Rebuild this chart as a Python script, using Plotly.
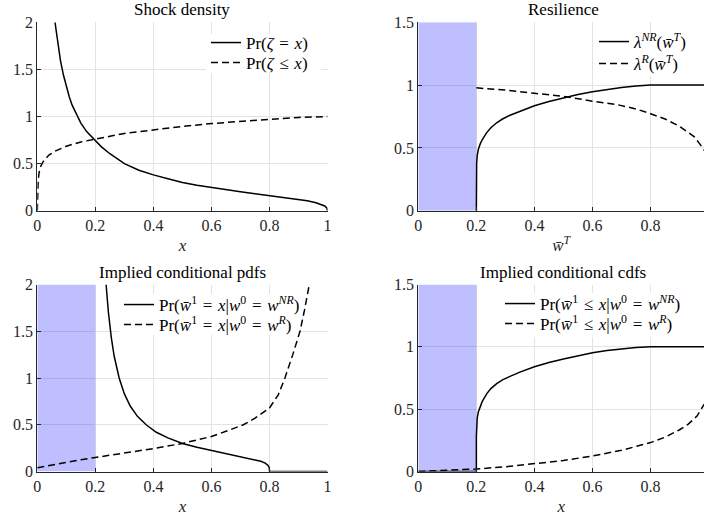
import plotly.graph_objects as go

# ---------------- data ----------------
shock_x_pdf = [0.061, 0.07, 0.08, 0.09, 0.10, 0.11, 0.12, 0.133, 0.15, 0.17, 0.195, 0.22, 0.25,
               0.30, 0.35, 0.40, 0.45, 0.50, 0.55, 0.60, 0.65, 0.70, 0.75, 0.80, 0.85, 0.90,
               0.93, 0.96, 0.98, 0.99, 0.997, 1.0]
shock_pdf = [2.0, 1.78, 1.59, 1.44, 1.31, 1.21, 1.12, 1.03, 0.93, 0.84, 0.755, 0.68, 0.605,
             0.50, 0.43, 0.38, 0.34, 0.30, 0.27, 0.245, 0.22, 0.20, 0.18, 0.16, 0.14, 0.12,
             0.105, 0.085, 0.065, 0.05, 0.03, 0.0]

shock_x_cdf = [0.0, 0.001, 0.003, 0.006, 0.01, 0.02, 0.04, 0.06, 0.08, 0.10, 0.15, 0.195, 0.25,
               0.30, 0.40, 0.50, 0.60, 0.70, 0.80, 0.90, 1.0]
shock_cdf = [0.0, 0.20, 0.32, 0.40, 0.46, 0.52, 0.59, 0.63, 0.66, 0.685, 0.73, 0.76, 0.79,
             0.82, 0.86, 0.895, 0.925, 0.95, 0.97, 0.99, 1.0]

res_x_nr = [0.2, 0.2, 0.201, 0.203, 0.207, 0.213, 0.22, 0.235, 0.25, 0.27, 0.29, 0.316, 0.35,
            0.40, 0.45, 0.50, 0.55, 0.60, 0.65, 0.70, 0.75, 0.80, 0.90, 1.0]
res_nr = [0.0, 0.30, 0.38, 0.44, 0.49, 0.53, 0.565, 0.62, 0.66, 0.70, 0.73, 0.76, 0.793,
          0.835, 0.87, 0.90, 0.925, 0.947, 0.966, 0.981, 0.993, 1.0, 1.0, 1.0]

res_x_r = [0.2, 0.3, 0.4, 0.5, 0.57, 0.6, 0.684, 0.75, 0.8, 0.85, 0.9, 0.93, 0.95, 0.97, 0.985]
res_r = [0.978, 0.96, 0.935, 0.91, 0.885, 0.872, 0.845, 0.81, 0.772, 0.73, 0.672, 0.625,
         0.59, 0.53, 0.48]

pdf_x_nr = [0.237, 0.245, 0.255, 0.265, 0.282, 0.30, 0.32, 0.345, 0.375, 0.41, 0.45, 0.50,
            0.55, 0.60, 0.65, 0.70, 0.74, 0.77, 0.785, 0.795, 0.799, 0.80, 0.9, 1.0]
pdf_nr = [2.0, 1.70, 1.43, 1.23, 1.0, 0.83, 0.70, 0.59, 0.50, 0.42, 0.36, 0.30,
          0.26, 0.225, 0.19, 0.16, 0.135, 0.11, 0.09, 0.065, 0.04, 0.0, 0.0, 0.0]

pdf_x_r = [0.0, 0.05, 0.1, 0.15, 0.2, 0.3, 0.4, 0.5, 0.6, 0.65, 0.71, 0.75, 0.8, 0.83, 0.853,
           0.88, 0.905, 0.92, 0.937]
pdf_r = [0.04, 0.07, 0.10, 0.125, 0.15, 0.195, 0.245, 0.30, 0.375, 0.43, 0.5, 0.57, 0.68,
         0.82, 1.0, 1.25, 1.5, 1.72, 2.0]

cdf_x_nr = [0.0, 0.1, 0.2, 0.2, 0.201, 0.203, 0.207, 0.213, 0.22, 0.236, 0.25, 0.27, 0.29,
            0.316, 0.35, 0.40, 0.45, 0.50, 0.55, 0.60, 0.65, 0.70, 0.75, 0.80, 0.90, 1.0]
cdf_nr = [0.0, 0.0, 0.0, 0.28, 0.37, 0.43, 0.48, 0.525, 0.56, 0.625, 0.665, 0.705, 0.735,
          0.763, 0.797, 0.84, 0.875, 0.903, 0.93, 0.953, 0.97, 0.984, 0.995, 1.0, 1.0, 1.0]

cdf_x_r = [0.0, 0.1, 0.2, 0.3, 0.4, 0.5, 0.6, 0.7, 0.8, 0.85, 0.9, 0.93, 0.96, 0.985]
cdf_r = [0.0, 0.008, 0.02, 0.038, 0.06, 0.088, 0.125, 0.17, 0.232, 0.275, 0.335, 0.38,
         0.445, 0.54]

shaded_region = [0.0, 0.2]

titles = ["Shock density", "Resilience", "Implied conditional pdfs", "Implied conditional cdfs"]
x_titles = ["<i>x</i>", "<i>w̄</i><sup><i>T</i></sup>", "<i>x</i>", "<i>x</i>"]

S = "\u2004"  # math-style spacing around relations
legend_names = [
    [f"Pr(<i>ζ</i>{S}={S}<i>x</i>)", f"Pr(<i>ζ</i>{S}≤{S}<i>x</i>)"],
    ["<i>λ</i><sup><i>NR</i></sup>(<i>w̄</i><sup><i>T</i></sup>)",
     "<i>λ</i><sup><i>R</i></sup>(<i>w̄</i><sup><i>T</i></sup>)"],
    [f"Pr(<i>w̄</i><sup>1</sup>{S}={S}<i>x</i>|<i>w</i><sup>0</sup>{S}={S}<i>w</i><sup><i>NR</i></sup>)",
     f"Pr(<i>w̄</i><sup>1</sup>{S}={S}<i>x</i>|<i>w</i><sup>0</sup>{S}={S}<i>w</i><sup><i>R</i></sup>)"],
    [f"Pr(<i>w̄</i><sup>1</sup>{S}≤{S}<i>x</i>|<i>w</i><sup>0</sup>{S}={S}<i>w</i><sup><i>NR</i></sup>)",
     f"Pr(<i>w̄</i><sup>1</sup>{S}≤{S}<i>x</i>|<i>w</i><sup>0</sup>{S}={S}<i>w</i><sup><i>R</i></sup>)"],
]

# ---------------- figure ----------------
W, H = 704, 518
FONT = "Liberation Serif"
AX = "#262626"
GRID = "#e3e3e3"
LEG_FS = 17

series = [
    [(shock_x_pdf, shock_pdf), (shock_x_cdf, shock_cdf)],
    [(res_x_nr, res_nr), (res_x_r, res_r)],
    [(pdf_x_nr, pdf_nr), (pdf_x_r, pdf_r)],
    [(cdf_x_nr, cdf_nr), (cdf_x_r, cdf_r)],
]
yranges = [[0, 2], [0, 1.5], [0, 2], [0, 1.5]]


def legend_key(panel, row):
    n = panel + 1 if row == 0 else panel + 5
    return "legend" if n == 1 else f"legend{n}"


fig = go.Figure()
for i, pair in enumerate(series):
    k = i + 1
    xa = "x" if k == 1 else f"x{k}"
    ya = "y" if k == 1 else f"y{k}"
    if k > 1:
        top = yranges[i][1]
        fig.add_trace(go.Scatter(
            x=[shaded_region[0], shaded_region[1], shaded_region[1], shaded_region[0], shaded_region[0]],
            y=[0, 0, top, top, 0], mode="lines", fill="toself",
            fillcolor="rgba(0,0,255,0.25)", line=dict(width=0), hoverinfo="skip",
            showlegend=False, xaxis=xa, yaxis=ya))
    for j, (xs, ys) in enumerate(pair):
        fig.add_trace(go.Scatter(
            x=xs, y=ys, mode="lines", xaxis=xa, yaxis=ya, legend=legend_key(i, j),
            name=legend_names[i][j],
            line=dict(color="black", width=1.5, dash="solid" if j == 0 else "7px,4px"),
        ))

px = lambda v: v / W
py = lambda v: 1 - v / H

x_left = [px(37.3), px(327.6)]
x_right = [px(418.3), 1.0]
y_top = [py(210.7), py(22.3)]
y_bot = [py(471.5), py(284.5)]

doms = [(x_left, y_top), (x_right, y_top), (x_left, y_bot), (x_right, y_bot)]
ytick = [[0, 0.5, 1, 1.5, 2], [0, 0.5, 1, 1.5], [0, 0.5, 1, 1.5, 2], [0, 0.5, 1, 1.5]]
xr_right = (704 - 418.3) / 290.3
xranges = [[0, 1], [0, xr_right], [0, 1], [0, xr_right]]

layout = dict(width=W, height=H, margin=dict(l=0, r=0, t=0, b=0, autoexpand=False),
              paper_bgcolor="white", plot_bgcolor="white",
              font=dict(family=FONT, size=14, color=AX), showlegend=True)

for i in range(4):
    k = i + 1
    sx = "xaxis" if k == 1 else f"xaxis{k}"
    sy = "yaxis" if k == 1 else f"yaxis{k}"
    anc_x = "y" if k == 1 else f"y{k}"
    anc_y = "x" if k == 1 else f"x{k}"
    xd, yd = doms[i]
    layout[sx] = dict(domain=xd, anchor=anc_x, range=xranges[i], automargin=False,
                      tickvals=[0, 0.2, 0.4, 0.6, 0.8, 1],
                      ticktext=["0", "0.2", "0.4", "0.6", "0.8", "1"],
                      ticks="inside", ticklen=4, tickcolor=AX, tickwidth=1,
                      showline=True, linecolor=AX, linewidth=1, mirror=False,
                      showgrid=True, gridcolor=GRID, gridwidth=1, zeroline=False,
                      tickfont=dict(family=FONT, size=16, color=AX),
                      title=dict(text=x_titles[i], font=dict(family=FONT, size=17, color=AX),
                                 standoff=6),
                      fixedrange=True)
    layout[sy] = dict(domain=yd, anchor=anc_y, range=yranges[i], automargin=False,
                      tickvals=ytick[i], ticktext=[f"{v:g}" for v in ytick[i]],
                      ticks="inside", ticklen=4, tickcolor=AX, tickwidth=1,
                      showline=True, linecolor=AX, linewidth=1, mirror=False,
                      showgrid=True, gridcolor=GRID, gridwidth=1, zeroline=False,
                      tickfont=dict(family=FONT, size=16, color=AX),
                      fixedrange=True)

# legends: one per entry so that row spacing matches the reference (transparent boxes)
line_start = [210, 598, 123, 504]
row_centers = [(43, 63), (42, 64), (305, 325), (304, 324)]
for i in range(4):
    for r in range(2):
        key = legend_key(i, r)
        layout[key] = dict(x=px(line_start[i] - 4), y=py(row_centers[i][r] - 18),
                           xanchor="left", yanchor="top", xref="paper", yref="paper",
                           bgcolor="rgba(0,0,0,0)", borderwidth=0,
                           font=dict(family=FONT, size=LEG_FS, color="black"))

fig.update_layout(**layout)

# white legend backgrounds (cover gridlines like the reference legend boxes)
legend_boxes = [(206, 34, 321, 73), (594, 34, 704, 76), (119, 294, 298, 335), (500, 293, 704, 337)]
for (x0, y0, x1, y1) in legend_boxes:
    fig.add_shape(type="rect", xref="paper", yref="paper",
                  x0=px(x0), x1=px(x1), y0=py(y1), y1=py(y0),
                  fillcolor="white", line=dict(width=0), layer="above")

# titles
centers = [(182.4, 9.5), (563.0, 9.5), (182.4, 272.0), (563.0, 272.0)]
for t, (cx, cy) in zip(titles, centers):
    fig.add_annotation(text=t, x=px(cx), y=py(cy), xref="paper", yref="paper",
                       showarrow=False, xanchor="center", yanchor="middle",
                       font=dict(family=FONT, size=17, color="black"))

fig.write_html("out.html", config={"displayModeBar": False},
               post_script="document.body.style.margin='0px';document.body.style.overflow='hidden';")
